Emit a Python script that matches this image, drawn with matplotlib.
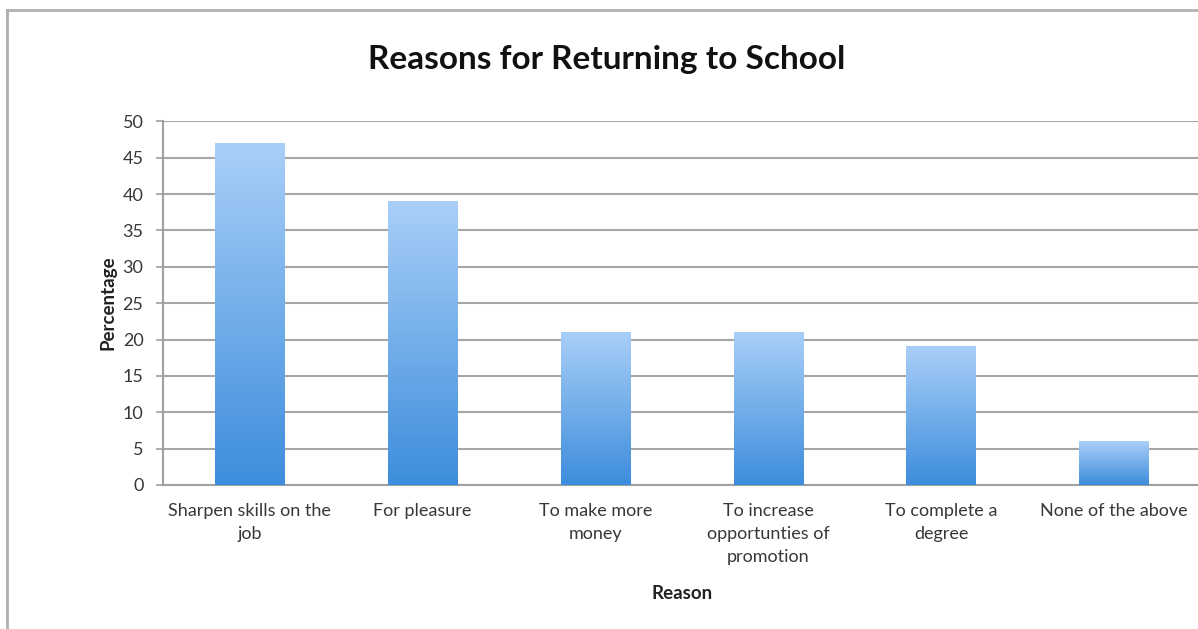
import numpy as np
import matplotlib
matplotlib.use('Agg')
import matplotlib.pyplot as plt
from matplotlib.lines import Line2D
from matplotlib.colors import LinearSegmentedColormap

plt.rcParams['font.family'] = ['Lato', 'DejaVu Sans']

reasons = ['Sharpen skills on the\njob', 'For pleasure', 'To make more\nmoney',
           'To increase\nopportunties of\npromotion', 'To complete a\ndegree',
           'None of the above']
percentages = [47, 39, 21, 21, 19, 6]
y_ticks = list(range(0, 55, 5))

fig = plt.figure(figsize=(11.98, 6.29), dpi=100)
ax = fig.add_axes([0.136, 0.229, 0.866, 0.578])

x = np.arange(len(reasons))
bars = ax.bar(x, percentages, width=0.4, color='none', zorder=3)

# vertical gradient for each bar, light at top, darker at bottom
grad = np.linspace(0, 1, 256).reshape(-1, 1)
cmap = LinearSegmentedColormap.from_list('bar', ['#3d8ddc', '#a9cff8'])
for b in bars:
    x0, y0 = b.get_x(), b.get_y()
    w, h = b.get_width(), b.get_height()
    ax.imshow(grad, extent=[x0, x0 + w, y0, y0 + h], origin='lower',
              cmap=cmap, aspect='auto', zorder=3)

ax.set_xlim(-0.5, len(reasons) - 0.5)
ax.set_ylim(0, 50)
ax.set_yticks(y_ticks)
ax.yaxis.grid(True, color='#a6a6a6', linewidth=1.5, zorder=0)
ax.set_axisbelow(True)

ax.set_xticks(x)
ax.set_xticklabels(reasons, fontsize=13, color='#383838', linespacing=1.55)
ax.tick_params(axis='x', length=0, pad=13)
ax.tick_params(axis='y', length=5, width=1.2, color='#a0a0a0', labelsize=13,
               labelcolor='#383838', pad=9)

for side in ['top', 'right']:
    ax.spines[side].set_visible(False)
ax.spines['left'].set_color('#a0a0a0')
ax.spines['left'].set_linewidth(1.5)
ax.spines['bottom'].set_color('#a0a0a0')
ax.spines['bottom'].set_linewidth(1.5)

ax.set_ylabel('Percentage', fontsize=13.5, fontweight='bold', color='#222222', labelpad=4)
ax.set_xlabel('Reason', fontsize=13.5, fontweight='bold', color='#222222', labelpad=14)

fig.text(0.506, 0.905, 'Reasons for Returning to School', ha='center', va='center',
         fontsize=24, fontweight='bold', color='#111111')

# outer chart frame (top and left visible)
fig.add_artist(Line2D([0.006, 1.0], [0.984, 0.984], color='#b0b0b0', linewidth=2,
                      transform=fig.transFigure))
fig.add_artist(Line2D([0.006, 0.006], [0.0, 0.984], color='#b0b0b0', linewidth=2,
                      transform=fig.transFigure))

fig.savefig('out.png', dpi=100)
